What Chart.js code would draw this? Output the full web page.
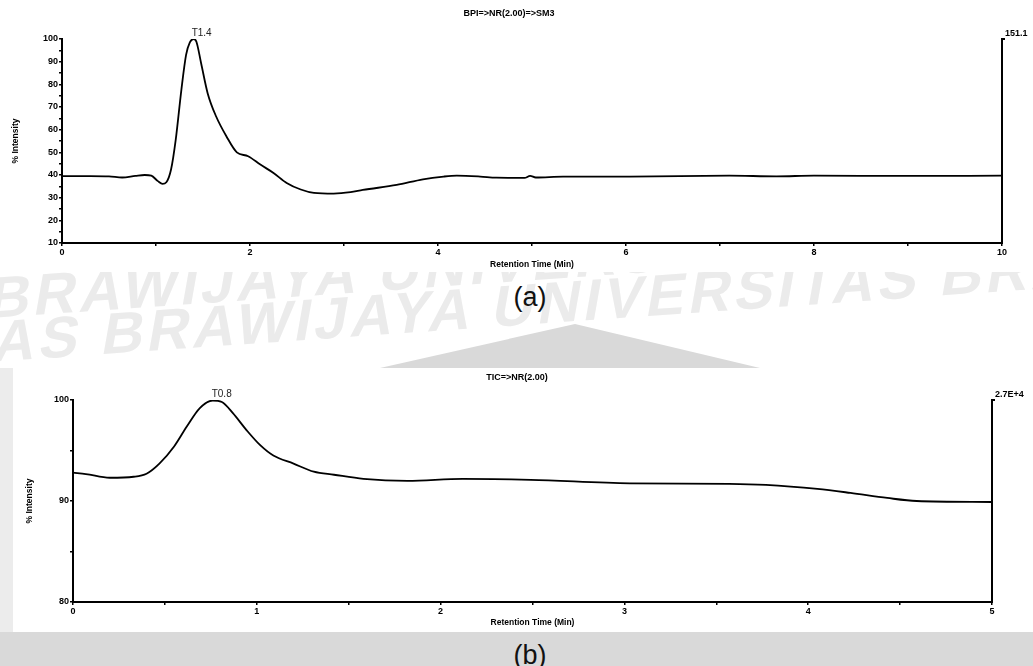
<!DOCTYPE html>
<html>
<head>
<meta charset="utf-8">
<script src="https://cdn.jsdelivr.net/npm/chart.js@4"></script>
<style>
  body { margin: 0; width: 1033px; height: 666px; overflow: hidden; background: #fff; position: relative; font-family: "Liberation Sans", Arial, sans-serif; }
  .box { position: absolute; }
  .cap { position: absolute; left: 0; width: 1060px; text-align: center; font-size: 27px; line-height: 30px; color: #111; z-index: 3; }
  .mark { position: absolute; white-space: nowrap; color: #ebebeb; font-weight: bold; font-size: 58px; letter-spacing: 4px; transform-origin: left center; transform: rotate(-4deg) skewX(-14deg); z-index: 1; }
  .tri { position: absolute; left: 0; top: 272px; width: 1033px; height: 96px; background: #d9d9d9; clip-path: polygon(380px 96px, 575px 52px, 760px 96px); z-index: 2; }
</style>
</head>
<body>
<div class="box" style="left:0;top:272px;width:1033px;height:96px;overflow:hidden;">
  <div class="mark" style="left:-10px;top:-8px;">BRAWIJAYA UNIVERSITAS BRAWIJAYA UNIVERSITAS</div>
  <div class="mark" style="left:-40px;top:38px;">TAS BRAWIJAYA UNIVERSITAS BRAWIJAYA UNIVERSITAS</div>
</div>
<div class="tri"></div>
<div class="cap" style="top:282px;">(a)</div>
<div class="box" style="left:0;top:368px;width:1033px;height:264px;background:#ececec;"></div>
<div class="box" style="left:0;top:632px;width:1033px;height:34px;background:#d9d9d9;"></div>
<div class="cap" style="top:640px;">(b)</div>
<div class="box" style="left:0;top:0;width:1033px;height:272px;z-index:4;"><canvas id="bpi"></canvas></div>
<div class="box" style="left:13px;top:368px;width:1020px;height:264px;background:#fff;z-index:4;"><canvas id="tic"></canvas></div>
<script>
// (a) BPI chromatogram
const bpiTime = [0, 0.3, 0.5, 0.64, 0.78, 0.88, 0.95, 1.02, 1.07, 1.11, 1.16, 1.21, 1.27, 1.32, 1.36, 1.40, 1.43, 1.48, 1.55, 1.64, 1.75, 1.86, 1.98, 2.11, 2.25, 2.39, 2.54, 2.68, 2.89, 3.07, 3.2, 3.56, 3.84, 4.06, 4.2, 4.45, 4.62, 4.92, 4.98, 5.04, 5.33, 6.04, 7.1, 7.6, 8.0, 9.0, 10];
const bpiIntensity = [39.5, 39.5, 39.4, 38.9, 39.6, 40, 39.7, 37.3, 36.1, 36.8, 42.4, 55.6, 77.6, 93, 98.5, 100, 98.8, 89.3, 76, 65.8, 57, 50, 48.3, 44.6, 40.9, 36.5, 33.6, 32.1, 31.8, 32.4, 33.4, 35.6, 38.1, 39.3, 39.7, 39.3, 38.8, 38.7, 39.6, 38.9, 39.3, 39.3, 39.7, 39.4, 39.7, 39.6, 39.7];
const bpiXLabels = [0, 2, 4, 6, 8, 10];
const bpiYLabels = [10, 20, 30, 40, 50, 60, 70, 80, 90, 100];
const bpiPeak = ['T1.4', 1.39, 100];
const bpiMax = '151.1';

// (b) TIC chromatogram
const ticTime = [0, 0.07, 0.2, 0.33, 0.40, 0.47, 0.55, 0.62, 0.69, 0.76, 0.81, 0.87, 0.945, 1.02, 1.09, 1.2, 1.31, 1.42, 1.58, 1.82, 2.12, 2.49, 3.03, 3.57, 3.77, 4.05, 4.23, 4.43, 4.59, 5.0];
const ticIntensity = [92.8, 92.67, 92.3, 92.4, 92.7, 93.7, 95.4, 97.4, 99.2, 99.95, 99.8, 98.7, 97, 95.5, 94.5, 93.7, 92.9, 92.6, 92.2, 92.0, 92.2, 92.1, 91.75, 91.7, 91.6, 91.2, 90.8, 90.3, 90.0, 89.9];
const ticXLabels = [0, 1, 2, 3, 4, 5];
const ticYLabels = [80, 90, 100];
const ticPeak = ['T0.8', 0.76, 100];
const ticMax = '2.7E+4';

const FONT = '"Liberation Sans", Arial, sans-serif';

const annotate = {
  id: 'annotate',
  afterDraw(chart, args, o) {
    const { ctx, chartArea: a, scales } = chart;
    ctx.save();
    ctx.fillStyle = '#000';
    ctx.strokeStyle = '#000';
    ctx.font = 'bold 9px ' + FONT;
    ctx.textAlign = 'center';
    ctx.textBaseline = 'middle';
    ctx.fillText(o.title, o.titleX, o.titleY);

    ctx.font = '10px ' + FONT;
    ctx.fillStyle = '#222';
    ctx.textAlign = 'left';
    ctx.textBaseline = 'bottom';
    ctx.fillText(o.peak[0], scales.x.getPixelForValue(o.peak[1]) - 1, scales.y.getPixelForValue(o.peak[2]) - 1);

    ctx.lineWidth = 2;
    ctx.beginPath();
    ctx.moveTo(a.right, a.top);
    ctx.lineTo(a.right + 3, a.top);
    ctx.stroke();
    ctx.fillStyle = '#000';
    ctx.font = 'bold 9px ' + FONT;
    ctx.textBaseline = 'middle';
    ctx.fillText(o.max, a.right + 3, a.top - 5);
    ctx.restore();
  }
};

function axisCommon() {
  return {
    border: { display: true, color: '#000', width: 2 },
    grid: { display: true, drawOnChartArea: false, drawTicks: true, tickLength: 3, color: '#000', lineWidth: 1.5 },
  };
}

function makeChart(id, times, values, xLabels, yLabels, cfg) {
  const points = times.map((t, i) => ({ x: t, y: values[i] }));
  return new Chart(document.getElementById(id), {
    type: 'line',
    data: {
      datasets: [{
        data: points,
        borderColor: '#000',
        borderWidth: 1.8,
        pointRadius: 0,
        fill: false,
        cubicInterpolationMode: 'monotone'
      }]
    },
    options: {
      responsive: true,
      maintainAspectRatio: false,
      animation: false,
      layout: { padding: { top: cfg.top, left: 0, right: 0, bottom: 0 } },
      plugins: {
        legend: { display: false },
        tooltip: { enabled: false },
        annotate: cfg.annotate
      },
      scales: {
        x: {
          type: 'linear',
          min: xLabels[0],
          max: xLabels[xLabels.length - 1],
          ...axisCommon(),
          ticks: {
            stepSize: cfg.xStep,
            autoSkip: false,
            maxRotation: 0,
            padding: 1,
            color: '#000',
            font: { family: FONT, size: 9, weight: 'bold' },
            callback: v => xLabels.includes(v) ? String(v) : ''
          },
          title: {
            display: true,
            text: 'Retention Time (Min)',
            color: '#000',
            font: { family: FONT, size: 8.5, weight: 'bold' },
            padding: { top: 0, bottom: cfg.xTitlePad }
          },
          afterFit: s => { s.height = cfg.xHeight; }
        },
        y: {
          type: 'linear',
          position: 'left',
          min: yLabels[0],
          max: yLabels[yLabels.length - 1],
          ...axisCommon(),
          ticks: {
            stepSize: cfg.yStep,
            autoSkip: false,
            padding: 1,
            color: '#000',
            font: { family: FONT, size: 9, weight: 'bold' },
            callback: v => yLabels.includes(v) ? String(v) : ''
          },
          title: {
            display: true,
            text: '% Intensity',
            color: '#000',
            font: { family: FONT, size: 8.5, weight: 'bold' },
            padding: { top: cfg.yTitlePad, bottom: 0 }
          },
          afterFit: s => { s.width = cfg.yWidth; }
        },
        y2: {
          type: 'linear',
          position: 'right',
          min: yLabels[0],
          max: yLabels[yLabels.length - 1],
          border: { display: true, color: '#000', width: 2 },
          grid: { display: false },
          ticks: { display: false },
          afterFit: s => { s.width = cfg.y2Width; }
        }
      }
    },
    plugins: [annotate]
  });
}

makeChart('bpi', bpiTime, bpiIntensity, bpiXLabels, bpiYLabels, {
  top: 39, xHeight: 29, yWidth: 62, y2Width: 31, xStep: 1, yStep: 5,
  xTitlePad: 2, yTitlePad: 11,
  annotate: { title: 'BPI=>NR(2.00)=>SM3', titleX: 509, titleY: 14, peak: bpiPeak, max: bpiMax }
});

makeChart('tic', ticTime, ticIntensity, ticXLabels, ticYLabels, {
  top: 32, xHeight: 30, yWidth: 60, y2Width: 41, xStep: 0.5, yStep: 5,
  xTitlePad: 4, yTitlePad: 12,
  annotate: { title: 'TIC=>NR(2.00)', titleX: 504, titleY: 10, peak: ticPeak, max: ticMax }
});
</script>
</body>
</html>
